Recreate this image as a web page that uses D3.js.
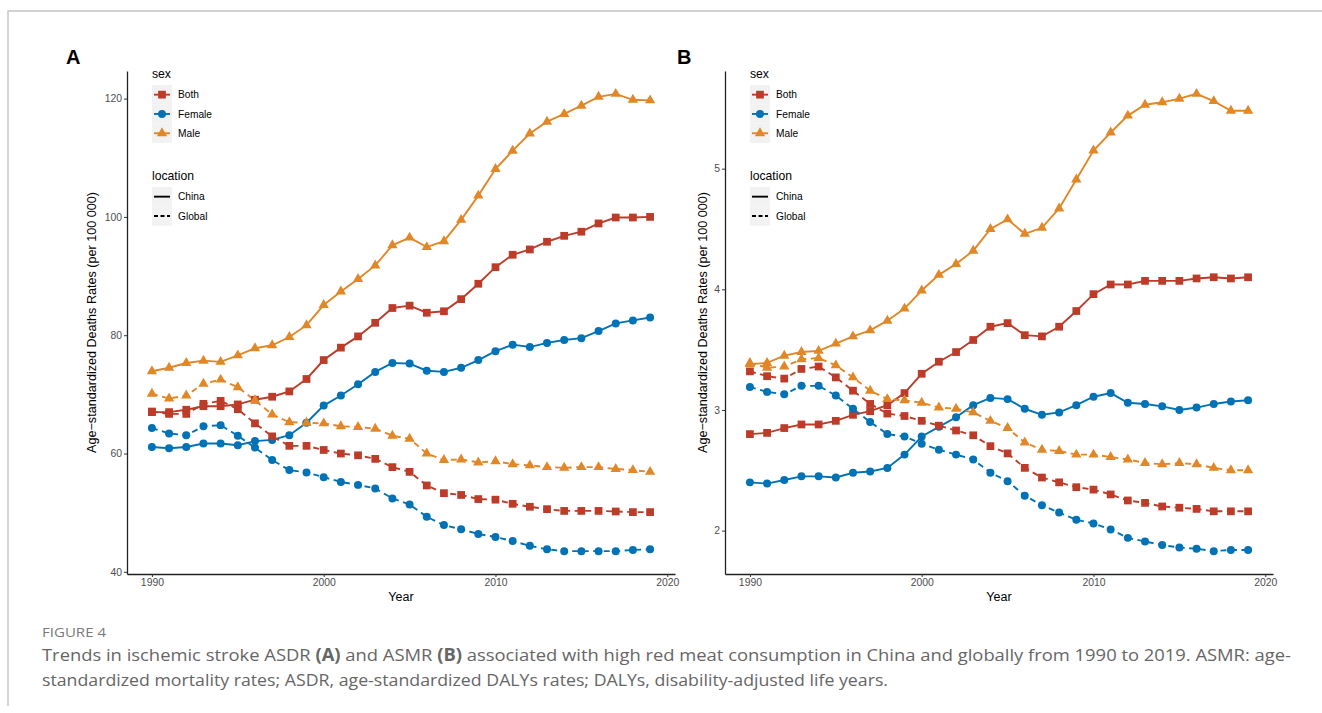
<!DOCTYPE html>
<html>
<head>
<meta charset="utf-8">
<script src="https://cdn.jsdelivr.net/npm/d3@7/dist/d3.min.js"></script>
<style>
  html, body { margin: 0; padding: 0; background: #fff; }
  svg { display: block; }
</style>
</head>
<body>
<svg id="fig" width="1322" height="713"></svg>
<script>
// ---- data -------------------------------------------------------------
const years = [1990, 1991, 1992, 1993, 1994, 1995, 1996, 1997, 1998, 1999,
               2000, 2001, 2002, 2003, 2004, 2005, 2006, 2007, 2008, 2009,
               2010, 2011, 2012, 2013, 2014, 2015, 2016, 2017, 2018, 2019];

const sexLevels = ["Both", "Female", "Male"];
const locationLevels = ["China", "Global"];

// Panel A: ASDR (per 100 000)
const asdrChinaBoth   = [67.0, 67.0, 67.4, 68.0, 68.0, 68.3, 69.1, 69.6, 70.5, 72.6, 75.8, 77.9, 79.8, 82.1, 84.6, 85.0, 83.8, 84.05, 86.1, 88.7, 91.5, 93.6, 94.5, 95.8, 96.8, 97.5, 98.9, 99.9, 99.9, 100.0];
const asdrChinaFemale = [61.1, 60.9, 61.1, 61.7, 61.7, 61.4, 62.1, 62.3, 63.1, 65.2, 68.1, 69.8, 71.7, 73.8, 75.3, 75.2, 74.0, 73.8, 74.5, 75.8, 77.3, 78.4, 78.0, 78.7, 79.2, 79.5, 80.7, 82.0, 82.5, 83.0];
const asdrChinaMale   = [73.9, 74.5, 75.3, 75.7, 75.5, 76.6, 77.8, 78.3, 79.7, 81.7, 85.1, 87.4, 89.5, 91.8, 95.2, 96.5, 94.9, 95.9, 99.5, 103.6, 108.1, 111.2, 114.1, 116.1, 117.4, 118.8, 120.3, 120.8, 119.8, 119.7];
const asdrGlobalBoth   = [67.1, 66.7, 66.7, 68.4, 68.9, 67.5, 65.1, 62.9, 61.3, 61.3, 60.6, 60.0, 59.7, 59.1, 57.7, 56.9, 54.6, 53.3, 53.0, 52.3, 52.2, 51.5, 51.0, 50.6, 50.3, 50.3, 50.3, 50.2, 50.1, 50.1];
const asdrGlobalFemale = [64.3, 63.4, 63.1, 64.6, 64.8, 63.0, 61.0, 58.9, 57.2, 56.8, 56.0, 55.2, 54.7, 54.1, 52.4, 51.4, 49.3, 47.9, 47.2, 46.4, 45.9, 45.2, 44.4, 43.8, 43.5, 43.5, 43.5, 43.5, 43.7, 43.8];
const asdrGlobalMale   = [70.1, 69.3, 69.8, 71.8, 72.5, 71.2, 69.0, 66.6, 65.3, 65.2, 65.1, 64.6, 64.5, 64.2, 63.0, 62.5, 60.0, 58.9, 59.0, 58.5, 58.7, 58.2, 58.0, 57.7, 57.6, 57.7, 57.7, 57.4, 57.2, 56.9];

// Panel B: ASMR (per 100 000)
const asmrChinaBoth   = [2.80, 2.81, 2.85, 2.88, 2.88, 2.91, 2.96, 2.99, 3.04, 3.14, 3.30, 3.40, 3.48, 3.58, 3.69, 3.72, 3.62, 3.61, 3.69, 3.82, 3.96, 4.04, 4.04, 4.07, 4.07, 4.07, 4.09, 4.10, 4.09, 4.10];
const asmrChinaFemale = [2.40, 2.39, 2.42, 2.45, 2.45, 2.44, 2.48, 2.49, 2.52, 2.63, 2.78, 2.86, 2.94, 3.04, 3.10, 3.09, 3.01, 2.96, 2.98, 3.04, 3.11, 3.14, 3.06, 3.05, 3.03, 3.00, 3.02, 3.05, 3.07, 3.08];
const asmrChinaMale   = [3.38, 3.39, 3.45, 3.48, 3.49, 3.55, 3.61, 3.66, 3.74, 3.84, 3.99, 4.12, 4.21, 4.32, 4.50, 4.58, 4.46, 4.51, 4.67, 4.91, 5.15, 5.30, 5.44, 5.53, 5.55, 5.58, 5.62, 5.56, 5.48, 5.48];
const asmrGlobalBoth   = [3.32, 3.28, 3.26, 3.34, 3.36, 3.27, 3.16, 3.05, 2.97, 2.95, 2.91, 2.87, 2.83, 2.79, 2.70, 2.64, 2.52, 2.44, 2.40, 2.36, 2.34, 2.30, 2.25, 2.23, 2.20, 2.19, 2.18, 2.16, 2.16, 2.16];
const asmrGlobalFemale = [3.19, 3.15, 3.13, 3.20, 3.20, 3.12, 3.01, 2.90, 2.80, 2.78, 2.72, 2.67, 2.63, 2.59, 2.48, 2.41, 2.29, 2.21, 2.15, 2.09, 2.06, 2.01, 1.94, 1.91, 1.88, 1.86, 1.85, 1.83, 1.84, 1.84];
const asmrGlobalMale   = [3.39, 3.35, 3.36, 3.42, 3.43, 3.37, 3.27, 3.16, 3.09, 3.08, 3.06, 3.02, 3.01, 2.98, 2.91, 2.85, 2.73, 2.67, 2.66, 2.63, 2.63, 2.61, 2.59, 2.56, 2.55, 2.56, 2.55, 2.52, 2.50, 2.50];

const xTicks = [1990, 2000, 2010, 2020];
const yTicksA = [40, 60, 80, 100, 120];
const yTicksB = [2, 3, 4, 5];

const yTitle = "Age\u2212standardized Deaths Rates (per 100 000)";
const captionHead = "FIGURE 4";

// ---- styling ----------------------------------------------------------
const sexColor = d3.scaleOrdinal().domain(sexLevels).range(["#BC3C29", "#0072B5", "#E18727"]);
const sexShape = d3.scaleOrdinal().domain(sexLevels).range([d3.symbolSquare, d3.symbolCircle, d3.symbolTriangle]);
const sexSize  = d3.scaleOrdinal().domain(sexLevels).range([60, 50, 46]);
const dashFor  = d3.scaleOrdinal().domain(locationLevels).range([null, "6,4.5"]);

const FONT = "'Liberation Sans', Arial, Helvetica, sans-serif";
const svg = d3.select("#fig");

// outer frame of the figure block
svg.append("path")
  .attr("d", "M8,706 L8,11 L1322,11")
  .attr("fill", "none").attr("stroke", "#c4c4c4").attr("stroke-width", 1.4);

function buildSeries(c) {
  return [
    { sex: "Both",   location: "China",  values: c.chinaBoth },
    { sex: "Female", location: "China",  values: c.chinaFemale },
    { sex: "Male",   location: "China",  values: c.chinaMale },
    { sex: "Both",   location: "Global", values: c.globalBoth },
    { sex: "Female", location: "Global", values: c.globalFemale },
    { sex: "Male",   location: "Global", values: c.globalMale }
  ];
}

function drawPanel(opt) {
  const g = svg.append("g");
  const series = buildSeries(opt.data);
  const all = series.flatMap(s => s.values);
  const [lo, hi] = d3.extent(all);
  const pad = (hi - lo) * 0.05;
  const xPad = (years[years.length - 1] - years[0]) * 0.05;

  const x = d3.scaleLinear()
    .domain([years[0] - xPad, years[years.length - 1] + xPad])
    .range([opt.left, opt.right]);
  const y = d3.scaleLinear()
    .domain([lo - pad, hi + pad])
    .range([opt.bottom, opt.top]);

  // axes
  const xAxis = d3.axisBottom(x).tickValues(xTicks).tickFormat(d3.format("d")).tickSize(3).tickPadding(2).tickSizeOuter(0);
  const yAxis = d3.axisLeft(y).tickValues(opt.yTicks).tickFormat(d3.format("d")).tickSize(3).tickPadding(2).tickSizeOuter(0);

  const gx = g.append("g").attr("transform", `translate(0,${opt.bottom})`).call(xAxis);
  const gy = g.append("g").attr("transform", `translate(${opt.left},0)`).call(yAxis);
  [gx, gy].forEach(ax => {
    ax.select(".domain").attr("stroke", "#222").attr("stroke-width", 1.3);
    ax.selectAll(".tick line").attr("stroke", "#333").attr("stroke-width", 1);
    ax.selectAll(".tick text").attr("fill", "#4D4D4D").style("font-family", FONT).style("font-size", "10.4px");
  });

  // lines
  const line = d3.line().x((d, i) => x(years[i])).y(d => y(d));
  g.append("g").selectAll("path").data(series).join("path")
    .attr("d", s => line(s.values))
    .attr("fill", "none")
    .attr("stroke", s => sexColor(s.sex))
    .attr("stroke-width", 1.9)
    .attr("stroke-dasharray", s => dashFor(s.location));

  // points
  const pts = series.flatMap(s => s.values.map((v, i) => ({ sex: s.sex, year: years[i], v })));
  g.append("g").selectAll("path").data(pts).join("path")
    .attr("transform", d => `translate(${x(d.year)},${y(d.v)})`)
    .attr("d", d => d3.symbol(sexShape(d.sex), sexSize(d.sex))())
    .attr("fill", d => sexColor(d.sex));

  // panel tag
  g.append("text").attr("x", opt.tagX).attr("y", 64)
    .style("font-family", FONT).style("font-weight", "bold").style("font-size", "20px")
    .text(opt.tag);

  // axis titles
  g.append("text")
    .attr("x", (opt.left + opt.right) / 2).attr("y", 601)
    .attr("text-anchor", "middle")
    .style("font-family", FONT).style("font-size", "12.5px")
    .text("Year");
  g.append("text")
    .attr("transform", `translate(${opt.yTitleX},${(opt.top + opt.bottom) / 2}) rotate(-90)`)
    .attr("text-anchor", "middle")
    .style("font-family", FONT).style("font-size", "12.6px")
    .text(yTitle);

  // legends
  const lx = opt.left + 25;
  const leg = g.append("g").style("font-family", FONT);
  leg.append("text").attr("x", lx).attr("y", 77.5).style("font-size", "12.2px").text("sex");
  const keyH = 19.3;
  sexLevels.forEach((s, i) => {
    const cy = 85 + keyH * i + keyH / 2;
    leg.append("rect").attr("x", lx).attr("y", 85 + keyH * i).attr("width", 20).attr("height", keyH).attr("fill", "#F2F2F2");
    leg.append("line").attr("x1", lx + 2).attr("x2", lx + 18).attr("y1", cy).attr("y2", cy)
      .attr("stroke", sexColor(s)).attr("stroke-width", 1.9);
    leg.append("path").attr("transform", `translate(${lx + 10},${cy})`)
      .attr("d", d3.symbol(sexShape(s), sexSize(s))()).attr("fill", sexColor(s));
    leg.append("text").attr("x", lx + 26).attr("y", cy + 3.6).style("font-size", "10.2px").text(s);
  });
  leg.append("text").attr("x", lx).attr("y", 179.5).style("font-size", "12.2px").text("location");
  locationLevels.forEach((l, i) => {
    const cy = 187 + keyH * i + keyH / 2;
    leg.append("rect").attr("x", lx).attr("y", 187 + keyH * i).attr("width", 20).attr("height", keyH).attr("fill", "#F2F2F2");
    leg.append("line").attr("x1", lx + 2).attr("x2", lx + 18).attr("y1", cy).attr("y2", cy)
      .attr("stroke", "#000").attr("stroke-width", 1.9)
      .attr("stroke-dasharray", l === "Global" ? "4,2.5" : null);
    leg.append("text").attr("x", lx + 26).attr("y", cy + 3.6).style("font-size", "10.2px").text(l);
  });
}

drawPanel({
  tag: "A", tagX: 66, left: 127, right: 675, top: 71, bottom: 574, yTitleX: 96,
  yTicks: yTicksA,
  data: { chinaBoth: asdrChinaBoth, chinaFemale: asdrChinaFemale, chinaMale: asdrChinaMale,
          globalBoth: asdrGlobalBoth, globalFemale: asdrGlobalFemale, globalMale: asdrGlobalMale }
});
drawPanel({
  tag: "B", tagX: 677, left: 725, right: 1273, top: 71, bottom: 574, yTitleX: 707,
  yTicks: yTicksB,
  data: { chinaBoth: asmrChinaBoth, chinaFemale: asmrChinaFemale, chinaMale: asmrChinaMale,
          globalBoth: asmrGlobalBoth, globalFemale: asmrGlobalFemale, globalMale: asmrGlobalMale }
});

// ---- caption ----------------------------------------------------------
const CAP_FONT = "'Liberation Sans Narrow', 'Open Sans', 'Noto Sans', sans-serif";
svg.append("text").attr("x", 42).attr("y", 637)
  .attr("fill", "#7a7a7a").style("font-family", CAP_FONT).style("font-size", "13.5px")
  .attr("textLength", 64).attr("lengthAdjust", "spacingAndGlyphs")
  .text(captionHead);

const captionLines = [
  { width: 1249, parts: [["Trends in ischemic stroke ASDR ", false], ["(A)", true], [" and ASMR ", false], ["(B)", true],
      [" associated with high red meat consumption in China and globally from 1990 to 2019. ASMR: age-", false]] },
  { width: 846, parts: [["standardized mortality rates; ASDR, age-standardized DALYs rates; DALYs, disability-adjusted life years.", false]] }
];
captionLines.forEach((ln, i) => {
  const t = svg.append("text").attr("x", 42).attr("y", 661 + i * 25)
    .attr("fill", "#666").style("font-family", CAP_FONT).style("font-size", "17px")
    .attr("textLength", ln.width).attr("lengthAdjust", "spacingAndGlyphs");
  ln.parts.forEach(([s, b]) => t.append("tspan").style("font-weight", b ? "bold" : "normal").text(s));
});
</script>
</body>
</html>
